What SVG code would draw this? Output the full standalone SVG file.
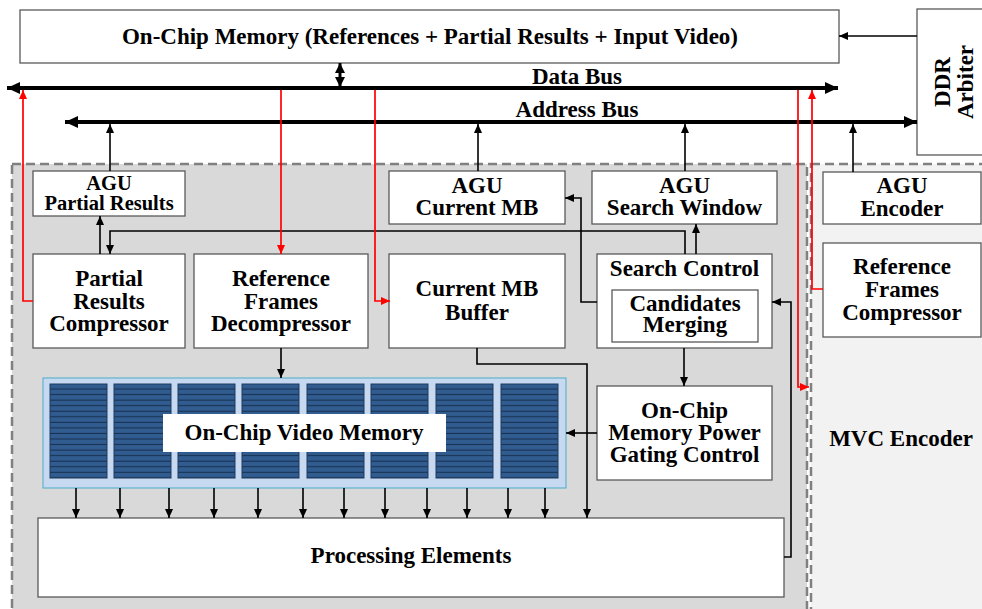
<svg xmlns="http://www.w3.org/2000/svg" width="982" height="609" viewBox="0 0 982 609">
<style>
.box{fill:#fff;stroke:#595959;stroke-width:1.3}
.t{font-family:"Liberation Serif","Times New Roman",serif;font-weight:bold;font-size:23px;text-anchor:middle;fill:#000}
.s{font-size:20.5px}
.c{stroke:#000;stroke-width:1.6;fill:none}
.r{stroke:#f00;stroke-width:1.7;fill:none}
.bus{stroke:#000;stroke-width:4;fill:none}
.reg{stroke:#808080;stroke-width:2.5;stroke-dasharray:9 5}
.blk{fill:url(#stripes);stroke:#1f3a5f;stroke-width:1}
</style>
<defs>
<marker id="a" markerUnits="userSpaceOnUse" markerWidth="9" markerHeight="8" refX="9" refY="4" orient="auto"><path d="M0,0 L9,4 L0,8 z" fill="#000"/></marker>
<marker id="ar" markerUnits="userSpaceOnUse" markerWidth="9" markerHeight="8" refX="9" refY="4" orient="auto"><path d="M0,0 L9,4 L0,8 z" fill="#f00"/></marker>
<marker id="b" markerUnits="userSpaceOnUse" markerWidth="13" markerHeight="12" refX="13" refY="6" orient="auto-start-reverse"><path d="M0,0 L13,6 L0,12 z" fill="#000"/></marker>
<marker id="d" markerUnits="userSpaceOnUse" markerWidth="10" markerHeight="10" refX="10" refY="5" orient="auto-start-reverse"><path d="M0,0 L10,5 L0,10 z" fill="#000"/></marker>
<pattern id="stripes" patternUnits="userSpaceOnUse" x="0" y="384" width="10" height="5.55">
<rect x="0" y="0" width="10" height="5.55" fill="#315c90"/>
<rect x="0" y="4.5" width="10" height="1.05" fill="#17304f"/>
</pattern>
</defs>

<g id="regions">
<rect class="reg" x="12" y="164" width="795" height="470" fill="#d9d9d9"/>
<rect class="reg" x="811" y="164" width="190" height="470" fill="#f2f2f2"/>
</g>

<g id="onchip-memory"><rect class="box" x="20" y="10" width="819" height="53"/><text class="t" x="430" y="44">On-Chip Memory (References + Partial Results + Input Video)</text></g>
<g id="ddr-arbiter"><rect class="box" x="917" y="9" width="80" height="146"/>
<g transform="translate(953,82) rotate(-90)"><text class="t" x="0" y="-3">DDR</text><text class="t" x="0" y="20">Arbiter</text></g></g>
<g id="bus-labels"><text class="t" x="577" y="84">Data Bus</text><text class="t" x="577" y="117">Address Bus</text></g>

<g id="agu-partial"><rect class="box" x="33" y="171" width="152" height="45"/><text class="t s" x="109" y="190">AGU</text><text class="t s" x="109" y="210">Partial Results</text></g>
<g id="partial-compressor"><rect class="box" x="33" y="254" width="152" height="94"/><text class="t" x="109" y="286">Partial</text><text class="t" x="109" y="309">Results</text><text class="t" x="109" y="331">Compressor</text></g>
<g id="ref-decompressor"><rect class="box" x="194" y="254" width="174" height="94"/><text class="t" x="281" y="286">Reference</text><text class="t" x="281" y="309">Frames</text><text class="t" x="281" y="331">Decompressor</text></g>
<g id="agu-current"><rect class="box" x="389" y="171" width="176" height="53"/><text class="t" x="477" y="193">AGU</text><text class="t" x="477" y="215">Current MB</text></g>
<g id="agu-search"><rect class="box" x="592" y="171" width="185" height="53"/><text class="t" x="684.5" y="193">AGU</text><text class="t" x="684.5" y="215">Search Window</text></g>
<g id="current-buffer"><rect class="box" x="389" y="254" width="176" height="94"/><text class="t" x="477" y="296">Current MB</text><text class="t" x="477" y="320">Buffer</text></g>
<g id="search-control"><rect class="box" x="597" y="254" width="175" height="94"/><text class="t" x="684.5" y="276">Search Control</text>
<rect class="box" x="612" y="290" width="146" height="52"/><text class="t" x="685" y="311">Candidates</text><text class="t" x="685" y="332">Merging</text></g>
<g id="agu-encoder"><rect class="box" x="823" y="172" width="158" height="52"/><text class="t" x="902" y="193">AGU</text><text class="t" x="902" y="216">Encoder</text></g>
<g id="ref-compressor"><rect class="box" x="823" y="243" width="158" height="94"/><text class="t" x="902" y="274">Reference</text><text class="t" x="902" y="297">Frames</text><text class="t" x="902" y="320">Compressor</text></g>
<g id="power-gating"><rect class="box" x="597" y="386" width="175" height="94"/><text class="t" x="684.5" y="418">On-Chip</text><text class="t" x="684.5" y="440">Memory Power</text><text class="t" x="684.5" y="462">Gating Control</text></g>
<g id="video-memory">
<rect x="43" y="378" width="523" height="110" fill="#c6d9f0" stroke="#4bacc6" stroke-width="1"/>
<rect class="blk" x="50" y="384" width="57" height="94"/>
<rect class="blk" x="114" y="384" width="57" height="94"/>
<rect class="blk" x="178" y="384" width="57" height="94"/>
<rect class="blk" x="242" y="384" width="57" height="94"/>
<rect class="blk" x="307" y="384" width="57" height="94"/>
<rect class="blk" x="371" y="384" width="57" height="94"/>
<rect class="blk" x="436" y="384" width="57" height="94"/>
<rect class="blk" x="501" y="384" width="57" height="94"/>
<rect x="163" y="414" width="283" height="38" fill="#fff"/>
<text class="t" x="304" y="440">On-Chip Video Memory</text></g>
<g id="processing-elements"><rect class="box" x="38" y="518" width="746" height="79"/><text class="t" x="411" y="563">Processing Elements</text></g>
<g id="mvc-label"><text class="t" x="901" y="446">MVC Encoder</text></g>

<g id="connectors">
<line class="bus" x1="7" y1="88" x2="838" y2="88" marker-start="url(#b)" marker-end="url(#b)"/>
<line class="bus" x1="65" y1="122" x2="917" y2="122" marker-start="url(#b)" marker-end="url(#b)"/>
<line stroke="#000" stroke-width="3" x1="340" y1="63" x2="340" y2="87" marker-start="url(#d)" marker-end="url(#d)"/>
<path class="c" d="M917,36 H839" marker-end="url(#a)"/>
<path class="c" d="M110,171 V124" marker-end="url(#a)"/>
<path class="c" d="M478,171 V124" marker-end="url(#a)"/>
<path class="c" d="M685,171 V124" marker-end="url(#a)"/>
<path class="c" d="M853,172 V124" marker-end="url(#a)"/>
<path class="c" d="M100,254 V216" marker-end="url(#a)"/>
<path class="c" d="M685,254 V231 H110 V254" marker-end="url(#a)"/>
<path class="c" d="M696,254 V224" marker-end="url(#a)"/>
<path class="c" d="M597,302 H581 V198 H565" marker-end="url(#a)"/>
<path class="c" d="M281,348 V378" marker-end="url(#a)"/>
<path class="c" d="M477,348 V364 H587 V518" marker-end="url(#a)"/>
<path class="c" d="M684,348 V386" marker-end="url(#a)"/>
<path class="c" d="M597,433 H566" marker-end="url(#a)"/>
<path class="c" d="M784,557 H791 V302 H772" marker-end="url(#a)"/>
<path class="c" d="M76,488 V518" marker-end="url(#a)"/>
<path class="c" d="M120,488 V518" marker-end="url(#a)"/>
<path class="c" d="M169,488 V518" marker-end="url(#a)"/>
<path class="c" d="M214,488 V518" marker-end="url(#a)"/>
<path class="c" d="M258,488 V518" marker-end="url(#a)"/>
<path class="c" d="M303,488 V518" marker-end="url(#a)"/>
<path class="c" d="M344,488 V518" marker-end="url(#a)"/>
<path class="c" d="M385,488 V518" marker-end="url(#a)"/>
<path class="c" d="M427,488 V518" marker-end="url(#a)"/>
<path class="c" d="M467,488 V518" marker-end="url(#a)"/>
<path class="c" d="M508,488 V518" marker-end="url(#a)"/>
<path class="c" d="M545,488 V518" marker-end="url(#a)"/>
<path class="r" d="M33,301 H23 V90" marker-end="url(#ar)"/>
<path class="r" d="M281,90 V254" marker-end="url(#ar)"/>
<path class="r" d="M375,90 V301 H390" marker-end="url(#ar)"/>
<path class="r" d="M798,90 V387 H809" marker-end="url(#ar)"/>
<path class="r" d="M823,289 H812 V90" marker-end="url(#ar)"/>
</g>
</svg>
